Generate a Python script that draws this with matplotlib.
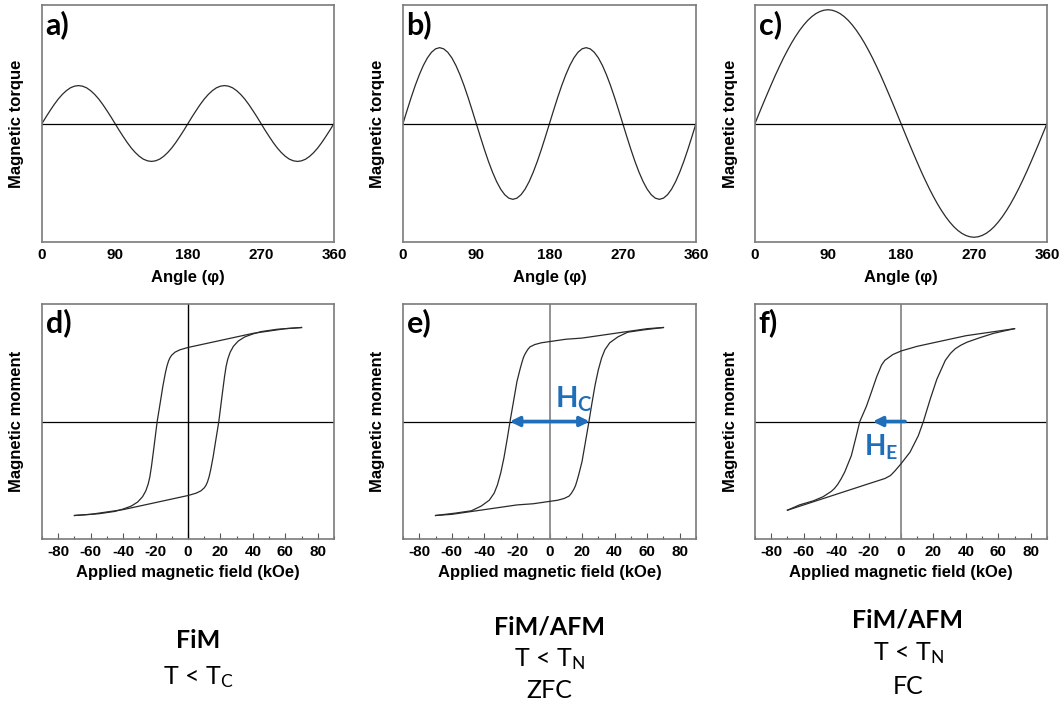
import matplotlib
matplotlib.use("Agg")
import matplotlib.pyplot as plt

plt.rcParams['mathtext.fontset'] = 'custom'
plt.rcParams['mathtext.rm'] = 'Lato'
plt.rcParams['mathtext.bf'] = 'Lato:bold'
plt.rcParams['mathtext.it'] = 'Lato:italic'

# ---------------- data ----------------
angle = list(range(0, 361, 5))

torque_a = [0, 0.056, 0.109, 0.16, 0.206, 0.245, 0.277, 0.301, 0.315, 0.32, 0.315, 0.301, 0.277, 0.245, 0.206, 0.16, 0.109, 0.056, 0,
            -0.056, -0.109, -0.16, -0.206, -0.245, -0.277, -0.301, -0.315, -0.32, -0.315, -0.301, -0.277, -0.245, -0.206, -0.16, -0.109, -0.056, 0,
            0.056, 0.109, 0.16, 0.206, 0.245, 0.277, 0.301, 0.315, 0.32, 0.315, 0.301, 0.277, 0.245, 0.206, 0.16, 0.109, 0.056, 0,
            -0.056, -0.109, -0.16, -0.206, -0.245, -0.277, -0.301, -0.315, -0.32, -0.315, -0.301, -0.277, -0.245, -0.206, -0.16, -0.109, -0.056, 0]

torque_b = [0, 0.111, 0.219, 0.32, 0.411, 0.49, 0.554, 0.601, 0.63, 0.64, 0.63, 0.601, 0.554, 0.49, 0.411, 0.32, 0.219, 0.111, 0,
            -0.111, -0.219, -0.32, -0.411, -0.49, -0.554, -0.601, -0.63, -0.64, -0.63, -0.601, -0.554, -0.49, -0.411, -0.32, -0.219, -0.111, 0,
            0.111, 0.219, 0.32, 0.411, 0.49, 0.554, 0.601, 0.63, 0.64, 0.63, 0.601, 0.554, 0.49, 0.411, 0.32, 0.219, 0.111, 0,
            -0.111, -0.219, -0.32, -0.411, -0.49, -0.554, -0.601, -0.63, -0.64, -0.63, -0.601, -0.554, -0.49, -0.411, -0.32, -0.219, -0.111, 0]

torque_c = [0, 0.084, 0.167, 0.248, 0.328, 0.406, 0.48, 0.551, 0.617, 0.679, 0.735, 0.786, 0.831, 0.87, 0.902, 0.927, 0.945, 0.956, 0.96,
            0.956, 0.945, 0.927, 0.902, 0.87, 0.831, 0.786, 0.735, 0.679, 0.617, 0.551, 0.48, 0.406, 0.328, 0.248, 0.167, 0.084, 0,
            -0.084, -0.167, -0.248, -0.328, -0.406, -0.48, -0.551, -0.617, -0.679, -0.735, -0.786, -0.831, -0.87, -0.902, -0.927, -0.945, -0.956, -0.96,
            -0.956, -0.945, -0.927, -0.902, -0.87, -0.831, -0.786, -0.735, -0.679, -0.617, -0.551, -0.48, -0.406, -0.328, -0.248, -0.167, -0.084, 0]

angle_ticks = [0, 90, 180, 270, 360]

# hysteresis loops: descending (from +70 kOe) and ascending (from -70 kOe) branches
d_H_down = [70, 60, 50, 40, 30, 20, 10, 0, -5, -8, -10, -11, -12, -13, -14, -15.5, -17, -19, -21, -22.5, -23.5, -24.5, -26, -28, -31, -35, -40, -45, -55, -70]
d_M_down = [0.80, 0.79, 0.77, 0.75, 0.72, 0.69, 0.66, 0.63, 0.61, 0.59, 0.565, 0.545, 0.515, 0.47, 0.41, 0.30, 0.17, 0.0, -0.22, -0.38, -0.47, -0.53, -0.59, -0.64, -0.685, -0.72, -0.745, -0.765, -0.785, -0.80]
d_H_up = [-70, -60, -50, -40, -30, -20, -10, 0, 5, 8, 10, 11, 12, 13, 14, 15.5, 17, 19, 21, 22.5, 23.5, 24.5, 26, 28, 31, 35, 40, 45, 55, 70]
d_M_up = [-0.80, -0.79, -0.77, -0.75, -0.72, -0.69, -0.66, -0.63, -0.61, -0.59, -0.565, -0.545, -0.515, -0.47, -0.41, -0.30, -0.17, 0.0, 0.22, 0.38, 0.47, 0.53, 0.59, 0.64, 0.685, 0.72, 0.745, 0.765, 0.785, 0.80]

e_H_down = [70, 60, 50, 40, 30, 20, 10, 0, -5, -9, -12, -13.5, -15, -16, -17, -18, -20, -22, -24, -26, -28, -30, -32, -34, -37, -42, -48, -58, -70]
e_M_down = [0.80, 0.79, 0.77, 0.75, 0.73, 0.71, 0.70, 0.68, 0.67, 0.655, 0.635, 0.61, 0.575, 0.545, 0.50, 0.45, 0.34, 0.18, 0.02, -0.15, -0.31, -0.44, -0.54, -0.61, -0.67, -0.72, -0.76, -0.78, -0.80]
e_H_up = [-70, -60, -50, -40, -30, -20, -10, 0, 5, 9, 12, 13.5, 15, 16, 17, 18, 20, 22, 24, 26, 28, 30, 32, 34, 37, 42, 48, 58, 70]
e_M_up = [-0.80, -0.79, -0.77, -0.75, -0.73, -0.71, -0.70, -0.68, -0.67, -0.655, -0.635, -0.61, -0.575, -0.545, -0.50, -0.45, -0.34, -0.18, -0.02, 0.15, 0.31, 0.44, 0.54, 0.61, 0.67, 0.72, 0.76, 0.78, 0.80]

f_H_down = [70, 60, 50, 40, 30, 20, 10, 0, -5, -10, -12, -13.5, -15, -17, -19, -21.3, -23.5, -25.4, -27.5, -30.6, -34.7, -37, -39, -41, -43, -48, -54, -62.6, -70]
f_M_down = [0.79, 0.77, 0.75, 0.73, 0.70, 0.67, 0.64, 0.60, 0.57, 0.52, 0.48, 0.43, 0.38, 0.30, 0.22, 0.13, 0.06, 0.0, -0.12, -0.29, -0.43, -0.49, -0.535, -0.57, -0.595, -0.64, -0.675, -0.71, -0.755]
f_H_up = [-70, -60, -50, -40, -30, -20, -9.9, -6.5, -3.7, 0, 5.6, 10.7, 13.8, 18, 22.1, 27.3, 30.5, 33.5, 37, 40.7, 49, 57, 65, 70]
f_M_up = [-0.755, -0.71, -0.665, -0.62, -0.575, -0.53, -0.485, -0.46, -0.42, -0.36, -0.26, -0.12, 0.0, 0.19, 0.36, 0.52, 0.58, 0.62, 0.65, 0.675, 0.715, 0.75, 0.775, 0.79]

field_ticks = [-80, -60, -40, -20, 0, 20, 40, 60, 80]
field_minor = [-90, -70, -50, -30, -10, 10, 30, 50, 70, 90]

hc_arrow = (-24.4, 24.7)   # kOe, double arrow on panel e
he_arrow = (2.5, -17.4)    # kOe, arrow on panel f (start, end)

bottom_titles = ["FiM", "FiM/AFM", "FiM/AFM"]
bottom_lines = [[r"T < T$_{\mathrm{C}}$"], [r"T < T$_{\mathrm{N}}$", "ZFC"], [r"T < T$_{\mathrm{N}}$", "FC"]]

# ---------------- figure ----------------
W, H = 1061, 707
fig = plt.figure(figsize=(W / 100, H / 100), dpi=100)

def rect(l, r, t, b):
    return [l / W, 1 - b / H, (r - l) / W, (b - t) / H]

spine_col = '#7a7a7a'
curve_col = '#2a2a2a'
blue = '#1f6eb9'
tick_font = dict(family='Liberation Sans', weight='bold', size=11)
label_font = dict(family='Liberation Sans', weight='bold', size=12)
panel_font = dict(family='Lato', weight='bold', size=22)

top_rects = [rect(42, 334, 5, 242), rect(403, 696, 5, 242), rect(755, 1047, 5, 242)]
bot_rects = [rect(42, 334, 304, 539), rect(403, 696, 304, 539), rect(755, 1047, 304, 539)]

torques = [torque_a, torque_b, torque_c]
for i, (r, tq, lab) in enumerate(zip(top_rects, torques, ['a)', 'b)', 'c)'])):
    ax = fig.add_axes(r)
    ax.plot(angle, tq, color=curve_col, lw=0.9)
    ax.axhline(0, color='black', lw=0.9)
    ax.set_xlim(0, 360)
    ax.set_ylim(-1, 1)
    ax.set_xticks(angle_ticks)
    ax.set_xticklabels([str(t) for t in angle_ticks], **tick_font)
    ax.set_yticks([])
    ax.tick_params(axis='x', length=0, pad=4)
    for s in ax.spines.values():
        s.set_color(spine_col)
        s.set_linewidth(1.2)
    ax.set_xlabel('Angle (φ)', **label_font)
    ax.xaxis.set_label_coords(0.5, -0.148)
    ax.xaxis.label.set_va('center')
    ax.set_ylabel('Magnetic torque', **label_font)
    ax.yaxis.set_label_coords(-25 / 292, 0.5)
    ax.yaxis.label.set_va('center')
    ax.text(0.012, 0.98, lab, transform=ax.transAxes, ha='left', va='top', **panel_font)

loops = [(d_H_down, d_M_down, d_H_up, d_M_up), (e_H_down, e_M_down, e_H_up, e_M_up),
         (f_H_down, f_M_down, f_H_up, f_M_up)]
vcols = ['black', '#8a8a8a', '#8a8a8a']
axes_bot = []
for i, (r, lp, lab) in enumerate(zip(bot_rects, loops, ['d)', 'e)', 'f)'])):
    ax = fig.add_axes(r)
    axes_bot.append(ax)
    ax.axhline(0, color='black', lw=0.9)
    ax.axvline(0, color=vcols[i], lw=1.0 if i == 0 else 1.3)
    ax.plot(lp[0], lp[1], color=curve_col, lw=0.9)
    ax.plot(lp[2], lp[3], color=curve_col, lw=0.9)
    ax.set_xlim(-90, 90)
    ax.set_ylim(-1, 1)
    ax.set_xticks(field_ticks)
    ax.set_xticklabels([str(t) for t in field_ticks], **tick_font)
    ax.set_xticks(field_minor, minor=True)
    ax.set_yticks([])
    ax.tick_params(axis='x', which='major', direction='in', length=4, width=0.8, color='#555555', pad=4)
    ax.tick_params(axis='x', which='minor', direction='in', length=2.5, width=0.8, color='#555555')
    for s in ax.spines.values():
        s.set_color(spine_col)
        s.set_linewidth(1.2)
    ax.set_xlabel('Applied magnetic field (kOe)', **label_font)
    ax.xaxis.set_label_coords(0.5, -(573 - 539) / 235)
    ax.xaxis.label.set_va('center')
    ax.set_ylabel('Magnetic moment', **label_font)
    ax.yaxis.set_label_coords(-25 / 292, 0.5)
    ax.yaxis.label.set_va('center')
    ax.text(0.012, 0.98, lab, transform=ax.transAxes, ha='left', va='top', **panel_font)

# annotations
ax_e, ax_f = axes_bot[1], axes_bot[2]
ax_e.annotate('', xy=(hc_arrow[0], 0), xytext=(hc_arrow[1], 0),
              arrowprops=dict(arrowstyle='<|-|>', color=blue, lw=2.6, mutation_scale=14, shrinkA=0, shrinkB=0))
ax_e.text(3.3, 0.12, r'$\mathbf{H}_{\mathbf{C}}$', color=blue, fontsize=21, ha='left', va='baseline')
ax_f.annotate('', xy=(he_arrow[1], 0), xytext=(he_arrow[0], 0),
              arrowprops=dict(arrowstyle='-|>', color=blue, lw=2.6, mutation_scale=14, shrinkA=0, shrinkB=0))
ax_f.text(-22.5, -0.29, r'$\mathbf{H}_{\mathbf{E}}$', color=blue, fontsize=20, ha='left', va='baseline')

# bottom captions
cx = [198, 549, 908]
title_y = [641, 627, 620]
line_y = [[677], [659, 690], [653, 686]]
for x, t, ty, lines, lys in zip(cx, bottom_titles, title_y, bottom_lines, line_y):
    fig.text(x / W, 1 - ty / H, t, ha='center', va='center', family='Lato', weight='bold', size=18)
    for ln, ly in zip(lines, lys):
        fig.text(x / W, 1 - ly / H, ln, ha='center', va='center', family='Lato', size=18)

fig.savefig('out.png', dpi=100)
